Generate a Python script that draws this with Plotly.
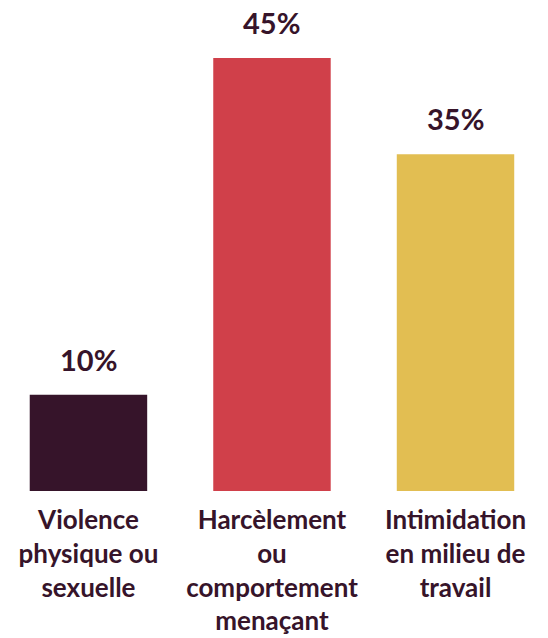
import plotly.graph_objects as go

categories = ["Violence<br>physique ou<br>sexuelle",
              "Harcèlement<br>ou<br>comportement<br>menaçant",
              "Intimidation<br>en milieu de<br>travail"]
values = [10, 45, 35]
value_labels = ["10%", "45%", "35%"]
colors = ["#36142a", "#d0404a", "#e2be52"]
text_color = "#36142a"

fig = go.Figure()
fig.add_trace(go.Bar(
    x=[0, 1, 2], y=values, marker=dict(color=colors, line=dict(width=0)),
    width=0.64, hoverinfo="skip",
))
for i, (v, t) in enumerate(zip(values, value_labels)):
    fig.add_annotation(x=i, y=v, text=t, showarrow=False, yanchor="bottom",
                       yshift=16, font=dict(family="Lato", size=29, color=text_color, weight="bold"))

fig.update_layout(
    width=548, height=638,
    margin=dict(l=0, r=0, t=0, b=147),
    plot_bgcolor="white", paper_bgcolor="white",
    showlegend=False,
    xaxis=dict(range=[-0.482, 2.504], tickmode="array", tickvals=[0, 1, 2], ticktext=categories,
               showgrid=False, zeroline=False, showline=False, ticks="",
               tickfont=dict(family="Lato", size=26, color=text_color, weight="bold"),
               ticklabelstandoff=11),
    yaxis=dict(range=[0, 51.03], visible=False),
)
fig.write_html("out.html")
